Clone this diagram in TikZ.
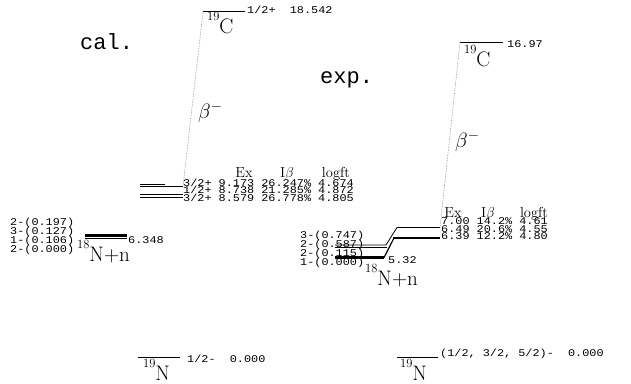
\documentclass[tikz,border=0pt]{standalone}
\usepackage{fontspec}
\newfontfamily\plotmono[FakeStretch=1.15]{Liberation Mono}
\newfontfamily\titlemono{Liberation Mono}
\usetikzlibrary{positioning}
\newcommand{\nucl}[2]{\raisebox{13pt}{\fontsize{12.5}{13}\selectfont #1}#2}

\begin{document}
\begin{tikzpicture}[x=1pt,y=-1pt,
  lev/.style={line width=0.8pt},
  levthick/.style={line width=2.5pt},
  decay/.style={gray,densely dotted,line width=0.6pt},
  num/.style={inner sep=0pt,anchor=base west,font=\plotmono\fontsize{10.3}{11}\selectfont},
  hdr/.style={inner sep=0pt,anchor=base,font=\fontsize{14.5}{15}\selectfont},
  big/.style={inner sep=0pt,anchor=base west,font=\fontsize{21}{24}\selectfont},
  ttl/.style={inner sep=0pt,anchor=base west,font=\titlemono\fontsize{22}{24}\selectfont}]
  \useasboundingbox (0,0) rectangle (631,383);

  % calculation
  \node[ttl] (cal) at (80,49) {cal.};
  \draw[lev] (203,11.7) coordinate (cCl) -- (245,11.7);
  \node[big] (cC) at (207,33) {\nucl{19}{C}};
  \node[num] (cCe) at (247,13.4) {1/2+~~18.542};
  \draw[lev] (140,184.3) -- (165,184.3);
  \draw[lev] (140,186.3) -- (183,186.3) coordinate (c1r);
  \draw[lev] (140,194.1) -- (183,194.1);
  \draw[lev] (140,196.9) -- (183,196.9);
  \draw[line width=1.4pt] (163,197.2) -- (183,197.2);
  \draw[decay] (cCl) -- (c1r);
  \node[big] (cbeta) at (198,118) {$\beta^-$};
  \node[hdr] (cEx) at (244,177.5) {Ex};
  \node[hdr] (cIb) at (287,177.5) {I$\beta$};
  \node[hdr] (clog) at (336,177.5) {logft};
  \node[num] (cr1) at (183,186.3) {3/2+ 9.173 26.247\% 4.674};
  \node[num] (cr2) at (183,193.7) {1/2+ 8.738 21.285\% 4.872};
  \node[num] (cr3) at (183,201.1) {3/2+ 8.579 26.778\% 4.805};
  \draw[line width=1.4pt] (85,234.9) -- (127,234.9);
  \draw[line width=1.4pt] (85,236.2) -- (127,236.2);
  \draw[line width=1.4pt] (85,236.6) -- (127,236.6);
  \draw[line width=1.4pt] (85,238.6) -- (127,238.6);
  \node[num] (cth) at (128,243.3) {6.348};
  \node[num] (cs1) at (10,225.3) {2-(0.197)};
  \node[num] (cs2) at (10,234.3) {3-(0.127)};
  \node[num] (cs3) at (10,243.3) {1-(0.106)};
  \node[num] (cs4) at (10,252.3) {2-(0.000)};
  \node[big] (cNn) at (77,261) {\nucl{18}{N+n}};
  \draw[lev] (138,357.7) -- (180,357.7);
  \node[big] (cN) at (143,380) {\nucl{19}{N}};
  \node[num] (cNe) at (187,362.3) {1/2-~~0.000};

  % experiment
  \node[ttl] (exp) at (320,83) {exp.};
  \draw[lev] (460,42.3) coordinate (eCl) -- (503,42.3);
  \node[big] (eC) at (464,66) {\nucl{19}{C}};
  \node[num] (eCe) at (507,47.5) {16.97};
  \draw[lev] (335,244.9) -- (386,244.9) -- (397,227.5) -- (440,227.5) coordinate (e1r);
  \draw[lev] (335,247.8) -- (387,247.8);
  \draw[levthick] (335,257.6) -- (384,257.6);
  \draw[line width=1.2pt] (384,257.6) -- (394,237.9);
  \draw[levthick] (393,237.9) -- (440,237.9);
  \draw[decay] (eCl) -- (e1r);
  \node[big] (ebeta) at (455,147) {$\beta^-$};
  \node[hdr] (eEx) at (453,217.5) {Ex};
  \node[hdr] (eIb) at (488,217.5) {I$\beta$};
  \node[hdr] (elog) at (534,217.5) {logft};
  \node[num] (er1) at (441,224.8) {7.00 14.2\% 4.61};
  \node[num] (er2) at (441,232.1) {6.49 20.6\% 4.55};
  \node[num] (er3) at (441,239.4) {6.39 12.2\% 4.80};
  \node[num] (eth) at (388,263.3) {5.32};
  \node[num] (es1) at (300,238.3) {3-(0.747)};
  \node[num] (es2) at (300,247.3) {2-(0.587)};
  \node[num] (es3) at (300,256.3) {2-(0.115)};
  \node[num] (es4) at (300,265.3) {1-(0.000)};
  \node[big] (eNn) at (365,285) {\nucl{18}{N+n}};
  \draw[lev] (397,357.7) -- (438,357.7);
  \node[big] (eN) at (400,380) {\nucl{19}{N}};
  \node[num] (eNe) at (440,356.6) {(1/2, 3/2, 5/2)-~~0.000};
\end{tikzpicture}
\end{document}
